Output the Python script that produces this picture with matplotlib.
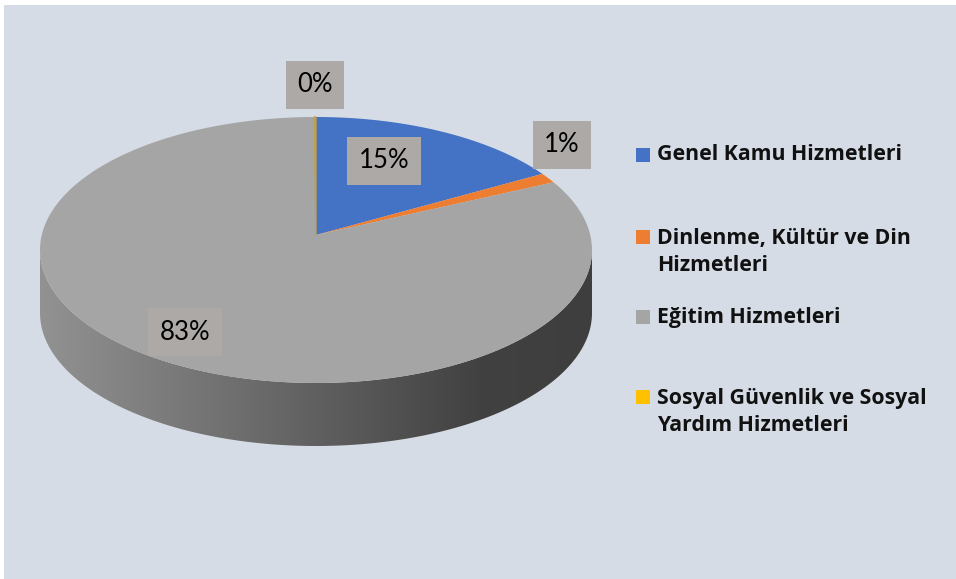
import numpy as np
import matplotlib
matplotlib.use('Agg')
import matplotlib.pyplot as plt
from matplotlib.patches import Polygon, Rectangle
from matplotlib.colors import LinearSegmentedColormap

plt.rcParams['font.family'] = ['Lato', 'DejaVu Sans']

# data
categories = ['Genel Kamu Hizmetleri',
              'Dinlenme, Kültür ve Din\nHizmetleri',
              'Eğitim Hizmetleri',
              'Sosyal Güvenlik ve Sosyal\nYardım Hizmetleri']
values = [15.3, 1.2, 83.4, 0.1]
pct_labels = ['15%', '1%', '83%', '0%']
colors = ['#4472C4', '#ED7D31', '#A5A5A5', '#FFC000']

# geometry (pixel space)
W, H = 956, 579
cx, cy = 316, 250       # ellipse centre
rx, ry = 276, 133
apex = (316, 235)       # perspective centre of the slices
depth = 63

fig = plt.figure(figsize=(W / 100, H / 100), dpi=100)
fig.patch.set_facecolor('white')
ax = fig.add_axes([0, 0, 1, 1])
ax.set_xlim(0, W)
ax.set_ylim(H, 0)
ax.axis('off')

ax.add_patch(Rectangle((4, 5), W - 4, H - 5, facecolor='#D6DCE5', edgecolor='none', zorder=0))

def ell(theta, dy=0):
    # theta: degrees clockwise from 12 o'clock
    t = np.radians(theta)
    return cx + rx * np.sin(t), cy - ry * np.cos(t) + dy

# side wall (front half, 90..270 deg clockwise from top)
th = np.linspace(90, 270, 200)
top_x, top_y = ell(th)
bot_x, bot_y = ell(th[::-1], depth)
side = Polygon(np.column_stack([np.r_[top_x, bot_x], np.r_[top_y, bot_y]]),
               closed=True, facecolor='none', edgecolor='none', zorder=1)
ax.add_patch(side)
cmap = LinearSegmentedColormap.from_list('side', [(0, '#929292'), (0.5, '#606060'),
                                                  (0.8, '#414141'), (1, '#3e3e3e')])
grad = np.linspace(0, 1, 256).reshape(1, -1)
im = ax.imshow(grad, cmap=cmap, extent=(cx - rx, cx + rx, cy + ry + depth + 2, cy - 5),
               aspect='auto', zorder=1)
im.set_clip_path(side)

# top face
start = 0.0
total = sum(values)
for v, c in zip(values, colors):
    sweep = 360 * v / total
    t = np.linspace(start, start + sweep, max(int(sweep * 2), 4))
    x, y = ell(t)
    pts = np.column_stack([np.r_[apex[0], x], np.r_[apex[1], y]])
    thin = sweep < 1
    ec = '#BFA04E' if thin else c
    ax.add_patch(Polygon(pts, closed=True, facecolor=ec, edgecolor=ec,
                         linewidth=1.0 if thin else 0, zorder=2))
    start += sweep

# data labels
label_pos = [(384, 161), (562, 145), (185, 332), (315, 85)]
for (lx, ly), txt in zip(label_pos, pct_labels):
    ax.text(lx, ly, txt, fontsize=18.5, color='black', ha='center', va='center', zorder=4,
            bbox=dict(boxstyle='square,pad=0.45', facecolor='#ADA9A7', edgecolor='none'))

# legend
leg_y = [155, 252, 317, 412]
for cat, c, y in zip(categories, colors, leg_y):
    nlines = cat.count('\n') + 1
    sq_y = y - (nlines - 1) * 15.5
    ax.add_patch(Rectangle((636, sq_y - 7), 14, 14, facecolor=c, edgecolor='none', zorder=3))
    ax.text(657, y, cat, fontsize=15.3, fontweight='bold', color='#111111',
            family=['Open Sans', 'DejaVu Sans'],
            ha='left', va='center', linespacing=1.38, zorder=3)

fig.savefig('out.png', dpi=100)
